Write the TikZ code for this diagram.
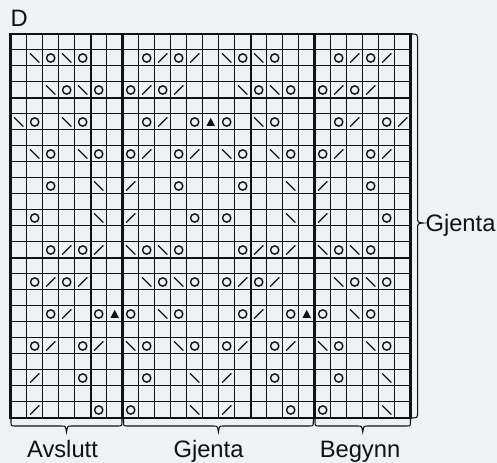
\documentclass[tikz,border=0pt]{standalone}
\usepackage{fontspec}
\setmainfont{Liberation Sans}
\definecolor{bgc}{HTML}{EFF2F5}
\definecolor{ink}{HTML}{111111}
\begin{document}
\begin{tikzpicture}[x=0.75pt,y=-0.75pt,
  gridthin/.style={draw=ink,line width=0.75pt},
  gridmid/.style={draw=ink,line width=1.4pt},
  gridthick/.style={draw=ink,line width=2.2pt},
  yarn/.style={draw=ink,line width=1.05pt},
  slant/.style={draw=ink,line width=1.0pt},
  bracket/.style={draw=ink,line width=0.8pt},
  lbl/.style={font=\fontsize{17.8}{21}\selectfont,text=ink,inner sep=0pt}]
\fill[bgc] (0,0) rectangle (497,463);
\useasboundingbox (0,0) rectangle (497,463);
% thin grid
\foreach \c in {1,...,24} \draw[gridthin] ({10.7+16*\c},34) -- ({10.7+16*\c},418);
\foreach \r in {1,...,23} \draw[gridthin] (10.7,{34+16*\r}) -- (410.7,{34+16*\r});
% medium lines
\foreach \c in {5,15} \draw[gridmid] ({10.7+16*\c},34) -- ({10.7+16*\c},418);
\foreach \r in {4,14} \draw[gridmid] (10.7,{34+16*\r}) -- (410.7,{34+16*\r});
% thick lines
\foreach \c in {7,19} \draw[gridthick] ({10.7+16*\c},34) -- ({10.7+16*\c},418);
\draw[gridthick] (10.7,34) rectangle (410.7,418);
% yarn overs (circles)
\foreach \r/\cs in {1/{2,4,8,10,14,16,20,22},3/{3,5,7,9,15,17,19,21},5/{1,4,8,11,13,16,20,23},
  7/{2,5,7,10,14,17,19,22},9/{2,10,14,22},11/{1,11,13,23},13/{2,4,8,10,14,16,20,22},
  15/{1,3,9,11,13,15,21,23},17/{2,5,7,10,14,17,19,22},19/{1,4,8,11,13,16,20,23},
  21/{4,8,16,20},23/{5,7,17,19}}
  {\foreach \c in \cs {\draw[yarn] ({18.7+16*\c},{42+16*\r}) circle[radius=3.1pt];}}
% backslash
\foreach \r/\cs in {1/{1,3,13,15},3/{2,4,14,16},5/{0,3,15},7/{1,4,13,16},9/{5,17},11/{5,17},
  13/{7,9,19,21},15/{8,10,20,22},17/{9,21},19/{7,10,19,22},21/{11,23},23/{11,23}}
  {\foreach \c in \cs {\draw[slant] ({18.7+16*\c-4.6},{42+16*\r-4.6}) -- ({18.7+16*\c+4.6},{42+16*\r+4.6});}}
% slash
\foreach \r/\cs in {1/{9,11,21,23},3/{8,10,20,22},5/{9,21,24},7/{8,11,20,23},9/{7,19},11/{7,19},
  13/{3,5,15,17},15/{2,4,14,16},17/{3,15},19/{2,5,14,17},21/{1,13},23/{1,13}}
  {\foreach \c in \cs {\draw[slant] ({18.7+16*\c-4.6},{42+16*\r+4.6}) -- ({18.7+16*\c+4.6},{42+16*\r-4.6});}}
% triangles
\foreach \c/\r in {12/5,6/17,18/17}
  {\fill[ink] ({18.7+16*\c-4.2},{42+16*\r+3.8}) -- ({18.7+16*\c+4.2},{42+16*\r+3.8}) -- ({18.7+16*\c},{42+16*\r-4.2}) -- cycle;}
% right brace
\draw[bracket] (410.7,34) .. controls (417.6,34) .. (417.6,40) -- (417.6,217)
  .. controls (417.6,222.5) .. (423.3,223) .. controls (417.6,223.5) .. (417.6,229)
  -- (417.6,412) .. controls (417.6,418) .. (410.7,418);
% bottom braces
\foreach \xa/\xb in {11/122, 123.5/313.3, 315/410.5}{
  \pgfmathsetmacro\xm{(\xa+\xb)/2}
  \draw[bracket] (\xa,418) -- (\xa,421) .. controls (\xa,426) .. ({\xa+4},426) -- ({\xm-5},426)
    .. controls ({\xm-1},426) .. (\xm,432) .. controls ({\xm+1},426) .. ({\xm+5},426)
    -- ({\xb-4},426) .. controls (\xb,426) .. (\xb,421) -- (\xb,418);
}
% labels
\node[lbl,anchor=base west] (title) at (10.3,27) {D};
\node[lbl,anchor=base west] (rep) at (425.3,231.5) {Gjenta};
\node[lbl,anchor=base] (fin) at (62.5,458) {Avslutt};
\node[lbl,anchor=base] (mid) at (208.5,458) {Gjenta};
\node[lbl,anchor=base] (beg) at (360,458) {Begynn};
\end{tikzpicture}
\end{document}
